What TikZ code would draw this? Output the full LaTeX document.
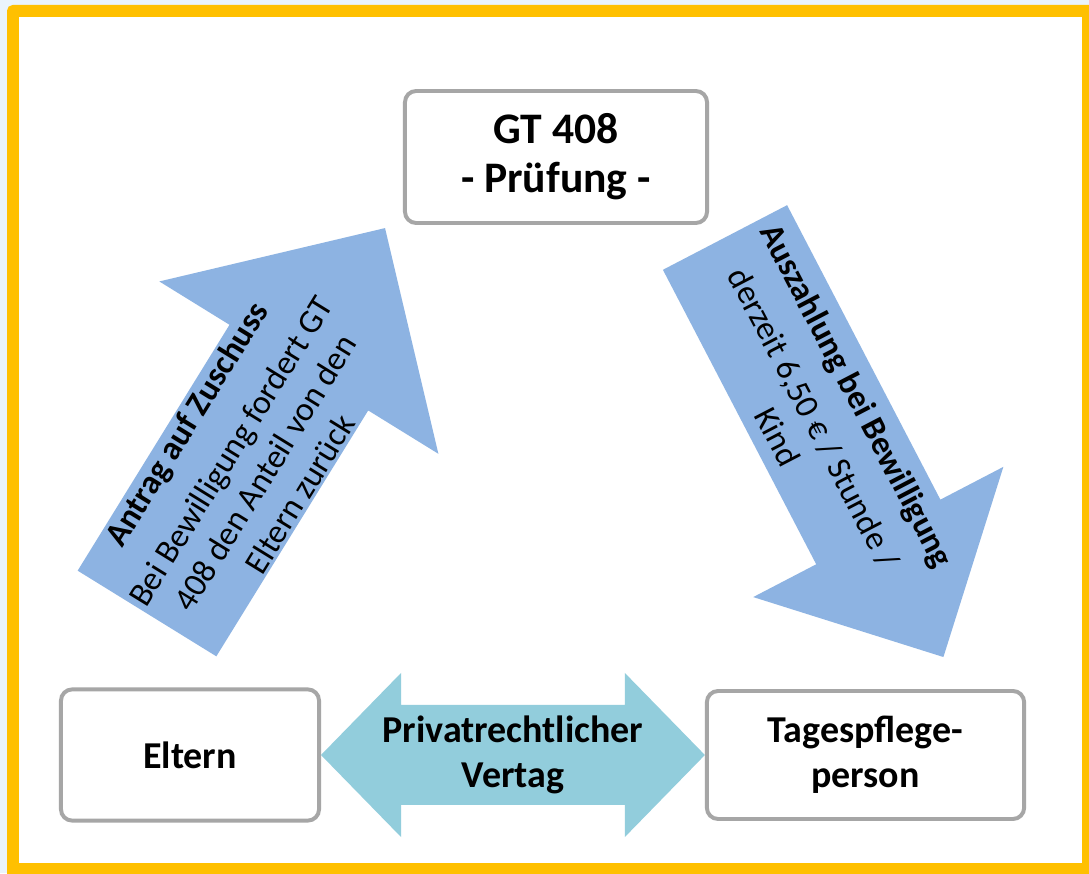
\documentclass[tikz,border=0pt]{standalone}
\usepackage{fontspec}
\setmainfont{Carlito}
\usetikzlibrary{calc}

\definecolor{framebg}{HTML}{EAF4FB}
\definecolor{frameorange}{HTML}{FFC000}
\definecolor{arrowblue}{HTML}{8DB3E2}
\definecolor{arrowaqua}{HTML}{92CDDC}
\definecolor{boxgray}{HTML}{A6A6A6}

\begin{document}
\begin{tikzpicture}[x=0.025cm, y=0.025cm,
  box/.style={draw=boxgray, line width=2.8pt, rounded corners=8pt, fill=white,
    align=center, inner sep=0pt, font=\bfseries\fontsize{27}{32}\selectfont},
  arrowtext/.style={align=center, transform shape, font=\fontsize{24}{29}\selectfont}]

\newcommand{\upangle}{58.3}
\newcommand{\downangle}{-62.5}
\newcommand{\vheadlen}{80}
\newcommand{\vheadhalf}{82}
\newcommand{\vshafthalf}{50}

\useasboundingbox (0,0) rectangle (1089,873);
\clip (0,0) rectangle (1089,873);

% frame
\fill[framebg] (0,0) rectangle (1089,873);
\fill[frameorange, rounded corners=4pt] (7,-20) rectangle (1109,868);
\fill[white] (19,10) rectangle (1082,856);

% boxes
\node[box, minimum width=7.55cm, minimum height=3.3cm,
  font=\bfseries\fontsize{31}{35}\selectfont] (gt) at (556,716) {GT 408\\- Prüfung -};
\node[box, minimum width=6.45cm, minimum height=3.28cm] (eltern) at (190,118) {Eltern};
\node[box, minimum width=7.93cm, minimum height=3.2cm] (tpp) at (865.5,118) {Tagespflege-\\person};

% Vertrag (double arrow)
\fill[arrowaqua] (eltern.east) -- ++(\vheadlen,\vheadhalf) -- ++(0,\vshafthalf-\vheadhalf)
  -- ($(tpp.west)+(-\vheadlen,\vshafthalf)$) -- ++(0,\vheadhalf-\vshafthalf) -- (tpp.west)
  -- ++(-\vheadlen,-\vheadhalf) -- ++(0,\vheadhalf-\vshafthalf)
  -- ($(eltern.east)+(\vheadlen,-\vshafthalf)$) -- ++(0,\vshafthalf-\vheadhalf) -- cycle;
\node[align=center, font=\bfseries\fontsize{27}{32}\selectfont] (vertrag)
  at ($(eltern.east)!0.5!(tpp.west)$) {Privatrechtlicher\\Vertag};

% Antrag (up)
\begin{scope}[shift={(147,259.5)}, rotate=\upangle]
  \fill[arrowblue] (0,-81.5) -- (289,-81.5) -- (289,-164) -- (453,0)
    -- (289,164) -- (289,81.5) -- (0,81.5) -- cycle;
  \node[arrowtext] (antrag) at (182,0) {\textbf{Antrag auf Zuschuss}\\[8pt]
    Bei Bewilligung fordert GT\\408 den Anteil von den\\Eltern zurück};
\end{scope}

% Auszahlung (down)
\begin{scope}[shift={(725,635.5)}, rotate=\downangle]
  \fill[arrowblue] (0,-70) -- (332,-70) -- (332,-141) -- (473,0)
    -- (332,141) -- (332,70) -- (0,70) -- cycle;
  \node[arrowtext] (auszahlung) at (201,0) {\textbf{Auszahlung bei Bewilligung}\\[6pt]
    derzeit 6,50 € / Stunde /\\Kind};
\end{scope}

\end{tikzpicture}
\end{document}
